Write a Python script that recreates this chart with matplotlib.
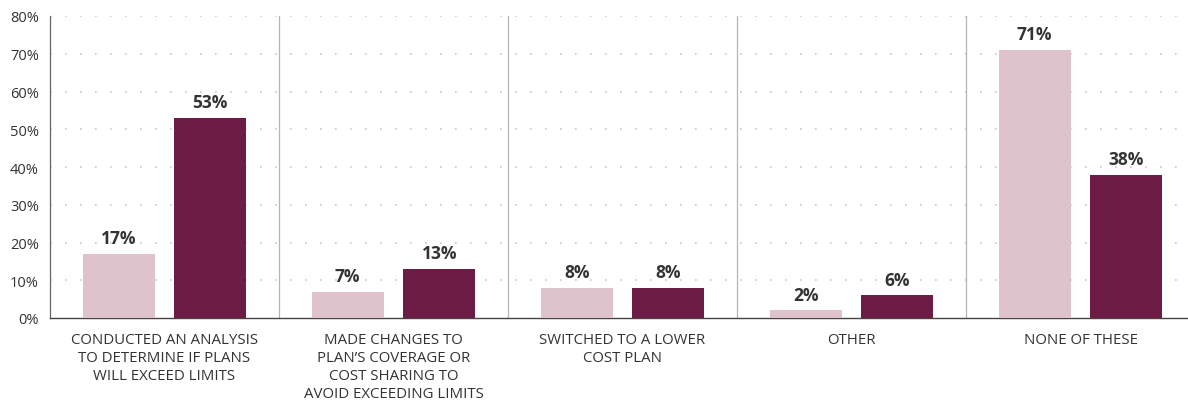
import matplotlib
matplotlib.use("Agg")
import matplotlib.pyplot as plt
import numpy as np

categories = [
    "CONDUCTED AN ANALYSIS\nTO DETERMINE IF PLANS\nWILL EXCEED LIMITS",
    "MADE CHANGES TO\nPLAN\u2019S COVERAGE OR\nCOST SHARING TO\nAVOID EXCEEDING LIMITS",
    "SWITCHED TO A LOWER\nCOST PLAN",
    "OTHER",
    "NONE OF THESE",
]
series_a = [17, 7, 8, 2, 71]
series_b = [53, 13, 8, 6, 38]

light = "#dfc3cc"
dark = "#6d1d45"
txt = "#333333"

plt.rcParams["font.family"] = ["Open Sans", "DejaVu Sans"]

fig = plt.figure(figsize=(11.88, 4.02), dpi=100)
ax = fig.add_axes([50 / 1188, (402 - 319) / 402, 1145 / 1188, 302 / 402])

x = np.arange(len(categories))
w = 0.314
off = 0.2
ax.bar(x - off, series_a, w, color=light, zorder=3)
ax.bar(x + off, series_b, w, color=dark, zorder=3)

for xi, v in zip(x, series_a):
    ax.text(xi - off, v + 1.8, f"{v}%", ha="center", va="bottom",
            fontsize=12.5, fontweight="bold", color=txt)
for xi, v in zip(x, series_b):
    ax.text(xi + off, v + 1.8, f"{v}%", ha="center", va="bottom",
            fontsize=12.5, fontweight="bold", color=txt)

ax.set_xlim(-0.5, 4.5)
ax.set_ylim(0, 80)
ax.set_yticks(range(0, 81, 10))
ax.set_yticklabels([f"{t}%" for t in range(0, 81, 10)], fontsize=10.5, color=txt)
for t in range(10, 81, 10):
    ax.axhline(t, color="#c8c8c8", lw=1.2, ls=(0, (1, 8)), zorder=1)
for b in np.arange(0.5, 4.6, 1):
    ax.axvline(b, color="#b5b5b5", lw=0.9, zorder=2)

ax.set_xticks(x)
ax.set_xticklabels(categories, fontsize=10.8, color=txt, linespacing=1.27)
ax.tick_params(axis="x", length=0, pad=10)
ax.tick_params(axis="y", length=0, pad=8)

for s in ["top", "right"]:
    ax.spines[s].set_visible(False)
ax.spines["left"].set_color("#666666")
ax.spines["bottom"].set_color("#444444")
ax.spines["left"].set_linewidth(0.9)
ax.spines["bottom"].set_linewidth(1.0)

fig.savefig("out.png", dpi=100)
